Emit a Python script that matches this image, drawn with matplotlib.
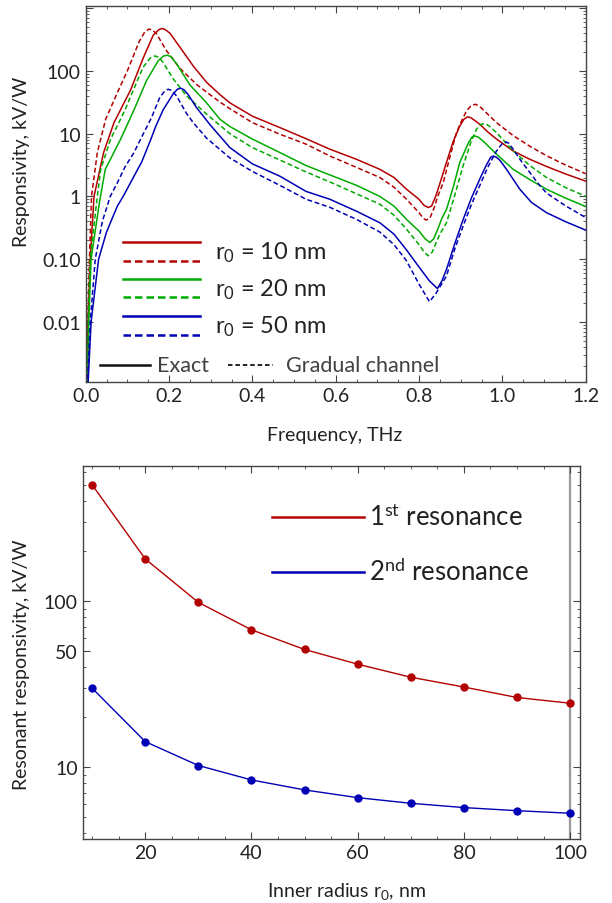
import numpy as np
import matplotlib
matplotlib.use("Agg")
import matplotlib.pyplot as plt
from matplotlib.ticker import FixedLocator, LogLocator, MultipleLocator, NullFormatter

plt.rcParams['font.family'] = ['Lato', 'DejaVu Sans']
plt.rcParams['mathtext.fontset'] = 'custom'
plt.rcParams['mathtext.rm'] = 'Lato'
plt.rcParams['mathtext.it'] = 'Lato:italic'
plt.rcParams['mathtext.bf'] = 'Lato:bold'

# ---- top panel: responsivity vs frequency (THz, kV/W) ----
f_red_ex = [0.001, 0.003, 0.0056, 0.011, 0.02, 0.043, 0.068, 0.108, 0.138, 0.162, 0.175, 0.182,
            0.19, 0.202, 0.226, 0.258, 0.29, 0.322, 0.346, 0.40, 0.466, 0.529, 0.586, 0.65,
            0.706, 0.74, 0.77, 0.80, 0.812, 0.822, 0.83, 0.84, 0.85, 0.866, 0.882, 0.898, 0.908,
            0.916, 0.924, 0.935, 0.946, 0.966, 0.986, 1.026, 1.066, 1.106, 1.15, 1.2]
v_red_ex = [1e-4, 0.001, 0.01, 0.1, 1.0, 5.0, 15, 50, 160, 370, 450, 474,
            460, 400, 240, 120, 66, 42, 31, 19, 12.5, 8.3, 5.65, 3.9,
            2.7, 2.0, 1.3, 0.9, 0.72, 0.665, 0.7, 1.0, 1.6, 3.5, 7.5, 13.3, 17,
            18.5, 18, 16, 14.1, 10.5, 8.2, 5.3, 3.9, 3.0, 2.3, 1.75]

f_red_gc = [0.001, 0.0025, 0.005, 0.009, 0.014, 0.028, 0.048, 0.076, 0.10, 0.128, 0.142, 0.152,
            0.16, 0.17, 0.194, 0.226, 0.266, 0.29, 0.322, 0.346, 0.40, 0.466, 0.529, 0.586,
            0.65, 0.706, 0.74, 0.77, 0.80, 0.81, 0.817, 0.826, 0.836, 0.845, 0.858, 0.875, 0.89,
            0.904, 0.914, 0.925, 0.936, 0.946, 0.96, 0.986, 1.026, 1.066, 1.106, 1.15, 1.2]
v_red_gc = [1e-4, 0.001, 0.01, 0.1, 1.0, 5.0, 17, 45, 100, 290, 420, 465,
            450, 390, 210, 110, 61, 46, 32, 25, 15, 9.8, 6.8, 4.4,
            2.9, 2.0, 1.4, 0.9, 0.55, 0.45, 0.42, 0.45, 0.65, 1.0, 1.65, 4.5, 10.4,
            17, 23, 28, 29.4, 27, 22, 15, 9.3, 6.3, 4.45, 3.2, 2.3]

f_grn_ex = [0.001, 0.004, 0.0075, 0.013, 0.033, 0.047, 0.084, 0.116, 0.146, 0.174, 0.186, 0.196,
            0.205, 0.218, 0.25, 0.29, 0.322, 0.346, 0.40, 0.466, 0.529, 0.586, 0.65, 0.706,
            0.74, 0.77, 0.80, 0.815, 0.826, 0.835, 0.845, 0.855, 0.866, 0.882, 0.898, 0.918, 0.927,
            0.934, 0.942, 0.955, 0.986, 1.026, 1.066, 1.106, 1.15, 1.2]
v_grn_ex = [1e-4, 0.001, 0.01, 0.1, 0.8, 2.7, 8.2, 24, 70, 145, 172, 178,
            168, 130, 60, 31, 17, 13, 8.2, 5.0, 3.1, 2.2, 1.5, 1.0,
            0.7, 0.43, 0.28, 0.21, 0.184, 0.21, 0.3, 0.45, 0.62, 1.4, 3.5, 7.0, 8.8,
            9.2, 8.8, 7.5, 4.7, 2.7, 1.85, 1.3, 0.95, 0.69]

f_grn_gc = [0.001, 0.003, 0.006, 0.011, 0.024, 0.036, 0.06, 0.092, 0.124, 0.138, 0.155, 0.166,
            0.176, 0.186, 0.21, 0.242, 0.29, 0.346, 0.40, 0.466, 0.529, 0.586, 0.65, 0.706,
            0.74, 0.77, 0.80, 0.812, 0.822, 0.832, 0.842, 0.85, 0.866, 0.885, 0.906, 0.925, 0.938,
            0.948, 0.958, 0.968, 0.986, 1.026, 1.066, 1.106, 1.15, 1.2]
v_grn_gc = [1e-4, 0.001, 0.01, 0.1, 0.6, 2.7, 8.2, 22, 70, 115, 160, 173,
            165, 135, 75, 40, 20.5, 10, 6.0, 3.8, 2.45, 1.7, 1.1, 0.75,
            0.5, 0.30, 0.17, 0.13, 0.113, 0.13, 0.19, 0.25, 0.38, 1.0, 3.1, 7.5, 11.8,
            14, 14.5, 13.3, 10.4, 5.3, 3.1, 2.0, 1.4, 1.0]

f_blu_ex = [0.001, 0.0056, 0.013, 0.031, 0.05, 0.076, 0.09, 0.116, 0.135, 0.156, 0.168, 0.186,
            0.21, 0.22, 0.228, 0.236, 0.246, 0.266, 0.298, 0.346, 0.40, 0.466, 0.529, 0.586,
            0.65, 0.706, 0.74, 0.77, 0.80, 0.825, 0.844, 0.855, 0.866, 0.885, 0.906, 0.926, 0.946,
            0.962, 0.972, 0.978, 0.986, 0.995, 1.01, 1.042, 1.07, 1.106, 1.15, 1.2]
v_blu_ex = [1e-4, 0.001, 0.01, 0.1, 0.27, 0.7, 1.0, 2.1, 3.6, 8, 13, 24,
            43, 51, 53, 50, 42, 26, 14, 6.0, 3.3, 2.1, 1.2, 0.9,
            0.58, 0.38, 0.25, 0.14, 0.075, 0.045, 0.034, 0.045, 0.069, 0.17, 0.43, 0.95, 1.9,
            3.2, 4.2, 4.4, 4.2, 3.7, 2.7, 1.3, 0.8, 0.55, 0.4, 0.29]

f_blu_gc = [0.001, 0.004, 0.011, 0.023, 0.04, 0.059, 0.076, 0.095, 0.116, 0.135, 0.158, 0.178,
            0.19, 0.198, 0.206, 0.218, 0.242, 0.258, 0.29, 0.346, 0.40, 0.466, 0.529, 0.586,
            0.65, 0.706, 0.74, 0.77, 0.80, 0.825, 0.84, 0.866, 0.885, 0.906, 0.926, 0.946, 0.966,
            0.986, 1.0, 1.009, 1.016, 1.026, 1.046, 1.066, 1.086, 1.106, 1.15, 1.2]
v_blu_gc = [1e-4, 0.001, 0.01, 0.1, 0.4, 1.0, 1.65, 3.0, 5.0, 9, 18, 38,
            48, 51, 49, 40, 21, 15, 8.5, 4.1, 2.5, 1.5, 0.9, 0.67,
            0.43, 0.27, 0.17, 0.094, 0.04, 0.021, 0.028, 0.054, 0.14, 0.34, 0.75, 1.5, 3.0,
            5.3, 7.0, 7.4, 7.0, 5.65, 3.6, 2.4, 1.6, 1.13, 0.72, 0.46]

legend_radii = ['10', '20', '50']

# ---- bottom panel: resonant responsivity vs inner radius ----
r0 = [10, 20, 30, 40, 50, 60, 70, 80, 90, 100]
res_first = [500, 179, 98, 67, 51, 41.6, 34.7, 30.3, 26.2, 24.2]
res_second = [29.8, 14.2, 10.2, 8.35, 7.27, 6.53, 6.04, 5.69, 5.45, 5.26]

RED = '#B30000'
GREEN = '#00AA00'
BLUE = '#0000B4'
TXT = '#222222'
FRAME = '#444444'


def style_axes(ax):
    for s in ax.spines.values():
        s.set_color(FRAME)
        s.set_linewidth(1.0)
    ax.tick_params(which='both', direction='in', top=True, right=True,
                   colors=FRAME, labelcolor=TXT, labelsize=14)
    ax.tick_params(which='major', length=5, width=0.8)
    ax.tick_params(which='minor', length=2.5, width=0.6)


def main():
    fig = plt.figure(figsize=(6.12, 9.04), dpi=100)

    # top
    ax1 = fig.add_axes([0.140, 0.5763, 0.817, 0.4156])
    ax1.set_yscale('log')
    dash = (0, (3.2, 1.8))
    curves = [(f_red_ex, v_red_ex, RED, '-'), (f_red_gc, v_red_gc, RED, dash),
              (f_grn_ex, v_grn_ex, GREEN, '-'), (f_grn_gc, v_grn_gc, GREEN, dash),
              (f_blu_ex, v_blu_ex, BLUE, '-'), (f_blu_gc, v_blu_gc, BLUE, dash)]
    for f, v, c, ls in curves:
        ax1.plot(f, v, color=c, ls=ls, lw=1.1)
    ax1.set_xlim(0, 1.2)
    ax1.set_ylim(0.0011, 1070)
    ax1.xaxis.set_minor_locator(MultipleLocator(0.05))
    ax1.set_xticks([0, 0.2, 0.4, 0.6, 0.8, 1.0, 1.2])
    ax1.set_xticklabels(['0.0', '0.2', '0.4', '0.6', '0.8', '1.0', '1.2'])
    ax1.yaxis.set_major_locator(FixedLocator([0.001, 0.01, 0.1, 1, 10, 100, 1000]))
    ax1.set_yticklabels(['', '0.01', '0.10', '1', '10', '100', ''])
    ax1.yaxis.set_minor_locator(LogLocator(base=10, subs=np.arange(2, 10), numticks=20))
    ax1.yaxis.set_minor_formatter(NullFormatter())
    style_axes(ax1)
    ax1.set_xlabel('Frequency, THz', fontsize=14, color=TXT)
    ax1.xaxis.set_label_coords(0.497, -0.118)
    ax1.set_ylabel('Responsivity, kV/W', fontsize=14, color=TXT)
    ax1.yaxis.set_label_coords(-0.111, 0.59)

    # legend drawn by hand, as in the original
    tr = ax1.transAxes
    rows = [(RED, 0.373, 0.323), (GREEN, 0.274, 0.225), (BLUE, 0.176, 0.125)]
    for (c, ys, yd), rad in zip(rows, legend_radii):
        ax1.plot([0.075, 0.229], [ys, ys], color=c, lw=1.8, transform=tr)
        ax1.plot([0.075, 0.229], [yd, yd], color=c, lw=1.8, ls=(0, (3, 1.6)), transform=tr)
        ax1.text(0.259, (ys + yd) / 2, r'r$_\mathrm{0}$ = ' + rad + ' nm', transform=tr,
                 fontsize=17, va='center', color=TXT)
    ax1.plot([0.029, 0.129], [0.046, 0.046], color='#111111', lw=1.8, transform=tr)
    ax1.text(0.143, 0.046, 'Exact', transform=tr, fontsize=15.5, va='center', color='#404040')
    ax1.plot([0.285, 0.375], [0.046, 0.046], color='#111111', lw=1.3, ls=(0, (2.5, 1.6)),
             transform=tr)
    ax1.text(0.400, 0.046, 'Gradual channel', transform=tr, fontsize=15.5, va='center',
             color='#404040')

    # bottom
    ax2 = fig.add_axes([0.135, 0.0708, 0.813, 0.4126])
    ax2.set_yscale('log')
    ax2.axvline(r0[-1], color='#999999', lw=1.6, zorder=1)
    ax2.plot(r0, res_first, '-o', color=RED, lw=1.0, ms=5, zorder=3)
    ax2.plot(r0, res_second, '-o', color=BLUE, lw=1.0, ms=5, zorder=3)
    ax2.set_xlim(8.2, 101.9)
    ax2.set_ylim(3.68, 650)
    ax2.xaxis.set_major_locator(MultipleLocator(20))
    ax2.xaxis.set_minor_locator(MultipleLocator(5))
    ax2.yaxis.set_major_locator(FixedLocator([10, 50, 100]))
    ax2.set_yticklabels(['10', '50', '100'])
    ax2.yaxis.set_minor_locator(FixedLocator([4, 5, 6, 7, 8, 9, 20, 30, 40, 60, 70, 80, 90,
                                              200, 300, 400, 500, 600]))
    ax2.yaxis.set_minor_formatter(NullFormatter())
    style_axes(ax2)
    ax2.set_xlabel(r'Inner radius r$_\mathrm{0}$, nm', fontsize=14, color=TXT)
    ax2.xaxis.set_label_coords(0.53, -0.11)
    ax2.set_ylabel('Resonant responsivity, kV/W', fontsize=14, color=TXT)
    ax2.yaxis.set_label_coords(-0.105, 0.47)

    tr2 = ax2.transAxes
    ax2.plot([0.381, 0.566], [0.863, 0.863], color=RED, lw=1.8, transform=tr2)
    ax2.text(0.575, 0.863, r'1$^\mathrm{st}$ resonance', transform=tr2, fontsize=18.5,
             va='center', color=TXT)
    ax2.plot([0.381, 0.566], [0.716, 0.716], color=BLUE, lw=1.8, transform=tr2)
    ax2.text(0.575, 0.716, r'2$^\mathrm{nd}$ resonance', transform=tr2, fontsize=18.5,
             va='center', color=TXT)

    fig.savefig('out.png', dpi=100)


if __name__ == '__main__':
    main()
